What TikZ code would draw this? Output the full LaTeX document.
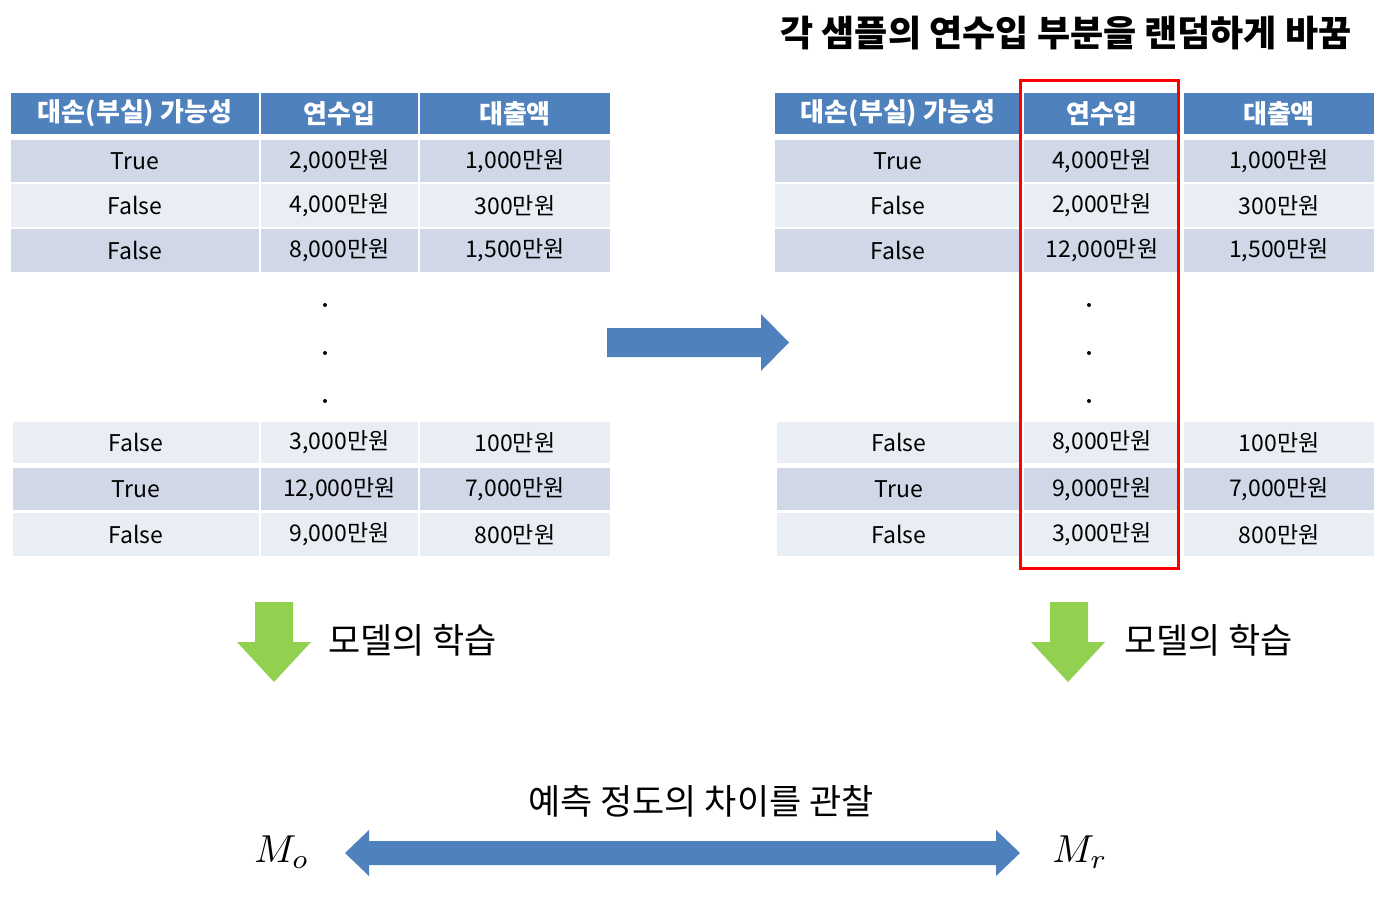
\documentclass[tikz,border=0pt]{standalone}
\usepackage{fontspec}
\setmainfont{Noto Sans CJK KR}
\definecolor{hdr}{HTML}{4F81BD}
\definecolor{rowdark}{HTML}{D0D8E8}
\definecolor{rowlight}{HTML}{E9EDF4}
\definecolor{arrblue}{HTML}{4F81BD}
\definecolor{arrgreen}{HTML}{92D050}
\definecolor{boxred}{HTML}{FF0000}
\tikzset{
  cell/.style={inner sep=0pt, outer sep=0pt, font=\fontsize{23}{26}\selectfont, text=black},
  hcell/.style={cell, fill=hdr, text=white, font=\fontsize{26}{30}\selectfont\bfseries},
  dk/.style={cell, fill=rowdark},
  lt/.style={cell, fill=rowlight},
  dotmark/.style={circle, fill=black, inner sep=0pt, minimum size=4pt},
  label/.style={inner sep=0pt, font=\fontsize{35}{40}\selectfont},
  title/.style={inner sep=0pt, font=\fontsize{36}{42}\selectfont\bfseries},
  mathlab/.style={inner sep=0pt},
  bluearrow/.style={fill=arrblue},
  greenarrow/.style={fill=arrgreen},
}
% \tcell{style}{name}{x1}{x2}{y1}{y2}{text}
\newcommand{\tcell}[7]{%
  \path[#1] (#3,#5) rectangle (#4,#6);
  \node[cell,#1,fill=none] (#2) at ({(#3+#4)/2},{(#5+#6)/2}) {#7};}
\begin{document}
\begin{tikzpicture}[x=1pt,y=-1pt]
\useasboundingbox (0,0) rectangle (1397,920);
\fill[white] (0,0) rectangle (1397,920);

% ---------- title ----------
\node[title] (title) at (1066,33) {각 샘플의 연수입 부분을 랜덤하게 바꿈};

% ---------- left table ----------
\tcell{hcell}{Lh1}{11}{259}{93}{134}{대손(부실) 가능성}
\tcell{hcell}{Lh2}{261}{418}{93}{134}{연수입}
\tcell{hcell}{Lh3}{420}{610}{93}{134}{대출액}

\tcell{dk}{La1}{11}{259}{140}{182}{True}
\tcell{dk}{La2}{261}{418}{140}{182}{2,000만원}
\tcell{dk}{La3}{420}{610}{140}{182}{1,000만원}

\tcell{lt}{Lb1}{11}{259}{184}{227}{False}
\tcell{lt}{Lb2}{261}{418}{184}{227}{4,000만원}
\tcell{lt}{Lb3}{420}{610}{184}{227}{300만원}

\tcell{dk}{Lc1}{11}{259}{229}{272}{False}
\tcell{dk}{Lc2}{261}{418}{229}{272}{8,000만원}
\tcell{dk}{Lc3}{420}{610}{229}{272}{1,500만원}

\node[dotmark] (Ld1) at (325,305) {};
\node[dotmark] (Ld2) at (325,353) {};
\node[dotmark] (Ld3) at (325,401) {};

\tcell{lt}{Ld1c}{13}{259}{422}{463}{False}
\tcell{lt}{Ld2c}{261}{418}{422}{463}{3,000만원}
\tcell{lt}{Ld3c}{420}{610}{422}{463}{100만원}

\tcell{dk}{Le1}{13}{259}{468}{510}{True}
\tcell{dk}{Le2}{261}{418}{468}{510}{12,000만원}
\tcell{dk}{Le3}{420}{610}{468}{510}{7,000만원}

\tcell{lt}{Lf1}{13}{259}{513}{556}{False}
\tcell{lt}{Lf2}{261}{418}{513}{556}{9,000만원}
\tcell{lt}{Lf3}{420}{610}{513}{556}{800만원}

% ---------- right table ----------
\tcell{hcell}{Rh1}{775}{1021}{93}{134}{대손(부실) 가능성}
\tcell{hcell}{Rh2}{1024}{1180}{93}{134}{연수입}
\tcell{hcell}{Rh3}{1184}{1374}{93}{134}{대출액}

\tcell{dk}{Ra1}{775}{1021}{140}{182}{True}
\tcell{dk}{Ra2}{1024}{1180}{140}{182}{4,000만원}
\tcell{dk}{Ra3}{1184}{1374}{140}{182}{1,000만원}

\tcell{lt}{Rb1}{775}{1021}{184}{227}{False}
\tcell{lt}{Rb2}{1024}{1180}{184}{227}{2,000만원}
\tcell{lt}{Rb3}{1184}{1374}{184}{227}{300만원}

\tcell{dk}{Rc1}{775}{1021}{229}{272}{False}
\tcell{dk}{Rc2}{1024}{1180}{229}{272}{12,000만원}
\tcell{dk}{Rc3}{1184}{1374}{229}{272}{1,500만원}

\node[dotmark] (Rd1) at (1089,305) {};
\node[dotmark] (Rd2) at (1089,353) {};
\node[dotmark] (Rd3) at (1089,401) {};

\tcell{lt}{Rd1c}{777}{1021}{422}{463}{False}
\tcell{lt}{Rd2c}{1024}{1180}{422}{463}{8,000만원}
\tcell{lt}{Rd3c}{1184}{1374}{422}{463}{100만원}

\tcell{dk}{Re1}{777}{1021}{468}{510}{True}
\tcell{dk}{Re2}{1024}{1180}{468}{510}{9,000만원}
\tcell{dk}{Re3}{1184}{1374}{468}{510}{7,000만원}

\tcell{lt}{Rf1}{777}{1021}{513}{556}{False}
\tcell{lt}{Rf2}{1024}{1180}{513}{556}{3,000만원}
\tcell{lt}{Rf3}{1184}{1374}{513}{556}{800만원}

% red highlight box
\draw[boxred, line width=3pt] (1020,81) rectangle (1178,568);

% ---------- right-pointing block arrow ----------
\fill[bluearrow] (607,328) -- (761,328) -- (761,314) -- (789,342.5) -- (761,371) -- (761,357) -- (607,357) -- cycle;

% ---------- green down arrows ----------
\fill[greenarrow] (255,602) -- (293,602) -- (293,642) -- (311,642) -- (274,682) -- (237,642) -- (255,642) -- cycle;
\fill[greenarrow] (1050,602) -- (1088,602) -- (1088,642) -- (1105,642) -- (1068,682) -- (1031,642) -- (1050,642) -- cycle;

\node[label, anchor=west] (learnL) at (328,640) {모델의 학습};
\node[label, anchor=west] (learnR) at (1124,640) {모델의 학습};

% ---------- bottom comparison ----------
\node[label] (observe) at (701,801) {예측 정도의 차이를 관찰};
\node[mathlab] (Mo) at (282,852) {\scalebox{3.9}{$M_o$}};
\node[mathlab] (Mr) at (1080,852) {\scalebox{3.9}{$M_r$}};
\fill[bluearrow] (345,853) -- (369,830) -- (369,841) -- (996,841) -- (996,830) -- (1020,853) -- (996,876) -- (996,865) -- (369,865) -- (369,876) -- cycle;

\end{tikzpicture}
\end{document}
